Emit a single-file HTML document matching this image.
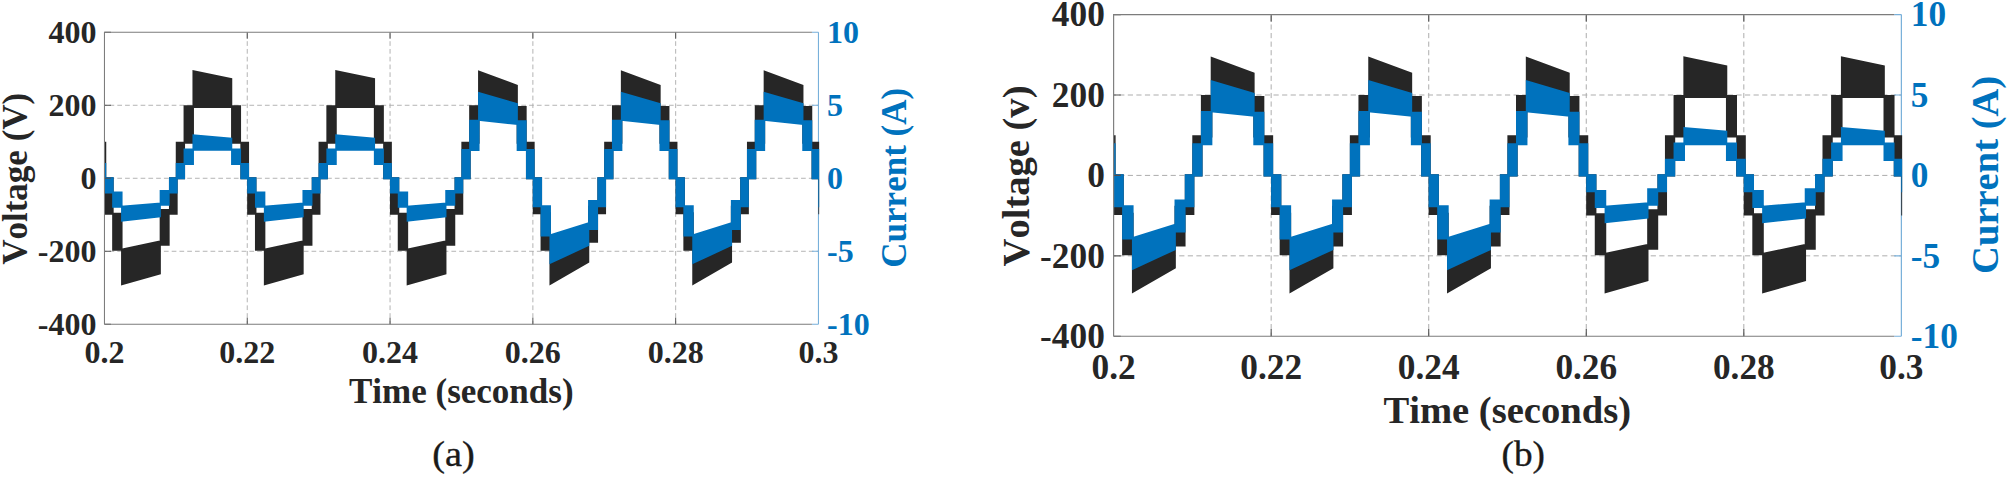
<!DOCTYPE html>
<html lang="en"><head><meta charset="utf-8"><title>Voltage and current waveforms</title>
<style>html,body{margin:0;padding:0;background:#fff}body{width:2007px;height:478px;overflow:hidden}svg{display:block}text{font-kerning:none}</style></head><body>
<svg width="2007" height="478" viewBox="0 0 2007 478">
<defs><clipPath id="clipbox"><rect x="0" y="0" width="714.7" height="292.0"/></clipPath></defs>
<rect width="2007" height="478" fill="#fff"/>
<g transform="translate(104.46,32.27)">
<path d="M142.8,0V292.0M285.6,0V292.0M428.4,0V292.0M571.2,0V292.0" fill="none" stroke="#acacac" stroke-width="0.9" stroke-dasharray="4.7 3.07" stroke-dashoffset="6.6"/>
<path d="M0,73.0H714.0M0,146.0H714.0M0,219.0H714.0" fill="none" stroke="#acacac" stroke-width="0.9" stroke-dasharray="4.7 3.07" stroke-dashoffset="2.7"/>
<path d="M714.0,0V292.0M714.0,0.0h-6.5M714.0,73.0h-6.5M714.0,146.0h-6.5M714.0,219.0h-6.5M714.0,292.0h-6.5" fill="none" stroke="#78b0da" stroke-width="1.1"/>
<g clip-path="url(#clipbox)">
<path d="M-71.5,109.6 -62.2,109.6 -62.2,147.0 -71.5,147.0ZM-63.7,73.1 -53.3,73.1 -53.3,111.6 -63.7,111.6ZM-54.8,37.7 -15.0,46.1 -15.0,75.8 -54.8,75.8ZM-16.2,73.1 -6.2,73.1 -6.2,111.6 -16.2,111.6ZM-6.9,109.6 1.8,109.6 1.8,147.0 -6.9,147.0ZM-0.1,145.0 9.2,145.0 9.2,182.4 -0.1,182.4ZM7.7,180.4 18.1,180.4 18.1,218.5 7.7,218.5ZM16.6,216.5 56.4,208.1 56.4,241.9 16.6,253.2ZM55.2,176.8 65.2,176.8 65.2,213.4 55.2,213.4ZM64.5,145.0 73.2,145.0 73.2,182.4 64.5,182.4ZM71.3,109.6 80.6,109.6 80.6,147.0 71.3,147.0ZM79.1,73.1 89.5,73.1 89.5,111.6 79.1,111.6ZM88.0,37.7 127.8,46.1 127.8,75.8 88.0,75.8ZM126.6,73.1 136.6,73.1 136.6,111.6 126.6,111.6ZM135.9,109.6 144.6,109.6 144.6,147.0 135.9,147.0ZM142.7,145.0 152.0,145.0 152.0,182.4 142.7,182.4ZM150.5,180.4 160.9,180.4 160.9,218.5 150.5,218.5ZM159.4,216.5 199.2,208.1 199.2,241.9 159.4,253.2ZM198.0,176.8 208.0,176.8 208.0,213.4 198.0,213.4ZM207.3,145.0 216.0,145.0 216.0,182.4 207.3,182.4ZM214.1,109.6 223.4,109.6 223.4,147.0 214.1,147.0ZM221.9,73.1 232.3,73.1 232.3,111.6 221.9,111.6ZM230.8,37.7 270.6,46.1 270.6,75.8 230.8,75.8ZM269.4,73.1 279.4,73.1 279.4,111.6 269.4,111.6ZM278.7,109.6 287.4,109.6 287.4,147.0 278.7,147.0ZM285.5,145.0 294.8,145.0 294.8,182.4 285.5,182.4ZM293.3,180.4 303.7,180.4 303.7,218.5 293.3,218.5ZM302.2,216.5 342.0,208.1 342.0,241.9 302.2,253.2ZM340.8,176.8 350.8,176.8 350.8,213.4 340.8,213.4ZM350.1,145.0 358.8,145.0 358.8,182.4 350.1,182.4ZM356.9,109.6 366.2,109.6 366.2,147.0 356.9,147.0ZM364.7,73.1 375.1,73.1 375.1,111.6 364.7,111.6ZM373.6,38.1 413.4,52.7 413.4,79.1 373.6,74.0ZM412.2,73.8 422.2,73.8 422.2,111.6 412.2,111.6ZM421.5,109.6 430.2,109.6 430.2,147.0 421.5,147.0ZM428.3,145.0 437.6,145.0 437.6,182.0 428.3,182.0ZM436.1,180.0 446.5,180.0 446.5,218.5 436.1,218.5ZM445.0,216.5 484.8,200.8 484.8,230.2 445.0,253.2ZM483.6,173.5 493.6,173.5 493.6,210.5 483.6,210.5ZM492.9,145.0 501.6,145.0 501.6,182.0 492.9,182.0ZM499.7,109.6 509.0,109.6 509.0,147.0 499.7,147.0ZM507.5,73.1 517.9,73.1 517.9,111.6 507.5,111.6ZM516.4,38.1 556.2,52.7 556.2,79.1 516.4,74.0ZM555.0,73.8 565.0,73.8 565.0,111.6 555.0,111.6ZM564.3,109.6 573.0,109.6 573.0,147.0 564.3,147.0ZM571.1,145.0 580.4,145.0 580.4,182.0 571.1,182.0ZM578.9,180.0 589.3,180.0 589.3,218.5 578.9,218.5ZM587.8,216.5 627.6,200.8 627.6,230.2 587.8,253.2ZM626.4,173.5 636.4,173.5 636.4,210.5 626.4,210.5ZM635.7,145.0 644.4,145.0 644.4,182.0 635.7,182.0ZM642.5,109.6 651.8,109.6 651.8,147.0 642.5,147.0ZM650.3,73.1 660.7,73.1 660.7,111.6 650.3,111.6ZM659.2,38.1 699.0,52.7 699.0,79.1 659.2,74.0ZM697.8,73.8 707.8,73.8 707.8,111.6 697.8,111.6ZM707.1,109.6 715.8,109.6 715.8,147.0 707.1,147.0ZM713.9,145.0 723.2,145.0 723.2,182.0 713.9,182.0ZM721.7,180.0 732.1,180.0 732.1,218.5 721.7,218.5ZM730.6,216.5 770.4,200.8 770.4,230.2 730.6,253.2ZM769.2,173.5 779.2,173.5 779.2,210.5 769.2,210.5ZM778.5,145.0 787.2,145.0 787.2,182.0 778.5,182.0Z" fill="#262626"/>
<path d="M-71.5,130.8 -62.2,130.8 -62.2,147.0 -71.5,147.0ZM-63.7,116.2 -53.3,116.2 -53.3,132.8 -63.7,132.8ZM-54.8,102.1 -15.0,105.4 -15.0,118.5 -54.8,118.5ZM-16.2,116.2 -6.2,116.2 -6.2,132.8 -16.2,132.8ZM-6.9,130.8 1.8,130.8 1.8,147.0 -6.9,147.0ZM-0.1,145.0 9.2,145.0 9.2,161.2 -0.1,161.2ZM7.7,159.2 18.1,159.2 18.1,175.6 7.7,175.6ZM16.6,173.6 56.4,170.3 56.4,185.0 16.6,189.5ZM55.2,157.7 65.2,157.7 65.2,173.6 55.2,173.6ZM64.5,145.0 73.2,145.0 73.2,161.2 64.5,161.2ZM71.3,130.8 80.6,130.8 80.6,147.0 71.3,147.0ZM79.1,116.2 89.5,116.2 89.5,132.8 79.1,132.8ZM88.0,102.1 127.8,105.4 127.8,118.5 88.0,118.5ZM126.6,116.2 136.6,116.2 136.6,132.8 126.6,132.8ZM135.9,130.8 144.6,130.8 144.6,147.0 135.9,147.0ZM142.7,145.0 152.0,145.0 152.0,161.2 142.7,161.2ZM150.5,159.2 160.9,159.2 160.9,175.6 150.5,175.6ZM159.4,173.6 199.2,170.3 199.2,185.0 159.4,189.5ZM198.0,157.7 208.0,157.7 208.0,173.6 198.0,173.6ZM207.3,145.0 216.0,145.0 216.0,161.2 207.3,161.2ZM214.1,130.8 223.4,130.8 223.4,147.0 214.1,147.0ZM221.9,116.2 232.3,116.2 232.3,132.8 221.9,132.8ZM230.8,102.1 270.6,105.4 270.6,118.5 230.8,118.5ZM269.4,116.2 279.4,116.2 279.4,132.8 269.4,132.8ZM278.7,130.8 287.4,130.8 287.4,147.0 278.7,147.0ZM285.5,145.0 294.8,145.0 294.8,161.2 285.5,161.2ZM293.3,159.2 303.7,159.2 303.7,175.6 293.3,175.6ZM302.2,173.6 342.0,170.3 342.0,185.0 302.2,189.5ZM340.8,157.7 350.8,157.7 350.8,173.6 340.8,173.6ZM350.1,145.0 358.8,145.0 358.8,161.2 350.1,161.2ZM356.9,116.7 366.2,116.7 366.2,147.0 356.9,147.0ZM364.7,87.5 375.1,87.5 375.1,118.7 364.7,118.7ZM373.6,59.4 413.4,71.1 413.4,92.7 373.6,88.6ZM412.2,88.1 422.2,88.1 422.2,118.7 412.2,118.7ZM421.5,116.7 430.2,116.7 430.2,147.0 421.5,147.0ZM428.3,145.0 437.6,145.0 437.6,175.0 428.3,175.0ZM436.1,173.0 446.5,173.0 446.5,204.2 436.1,204.2ZM445.0,202.2 484.8,189.7 484.8,213.6 445.0,232.0ZM483.6,167.8 493.6,167.8 493.6,197.8 483.6,197.8ZM492.9,145.0 501.6,145.0 501.6,175.0 492.9,175.0ZM499.7,116.7 509.0,116.7 509.0,147.0 499.7,147.0ZM507.5,87.5 517.9,87.5 517.9,118.7 507.5,118.7ZM516.4,59.4 556.2,71.1 556.2,92.7 516.4,88.6ZM555.0,88.1 565.0,88.1 565.0,118.7 555.0,118.7ZM564.3,116.7 573.0,116.7 573.0,147.0 564.3,147.0ZM571.1,145.0 580.4,145.0 580.4,175.0 571.1,175.0ZM578.9,173.0 589.3,173.0 589.3,204.2 578.9,204.2ZM587.8,202.2 627.6,189.7 627.6,213.6 587.8,232.0ZM626.4,167.8 636.4,167.8 636.4,197.8 626.4,197.8ZM635.7,145.0 644.4,145.0 644.4,175.0 635.7,175.0ZM642.5,116.7 651.8,116.7 651.8,147.0 642.5,147.0ZM650.3,87.5 660.7,87.5 660.7,118.7 650.3,118.7ZM659.2,59.4 699.0,71.1 699.0,92.7 659.2,88.6ZM697.8,88.1 707.8,88.1 707.8,118.7 697.8,118.7ZM707.1,116.7 715.8,116.7 715.8,147.0 707.1,147.0ZM713.9,145.0 723.2,145.0 723.2,175.0 713.9,175.0ZM721.7,173.0 732.1,173.0 732.1,204.2 721.7,204.2ZM730.6,202.2 770.4,189.7 770.4,213.6 730.6,232.0ZM769.2,167.8 779.2,167.8 779.2,197.8 769.2,197.8ZM778.5,145.0 787.2,145.0 787.2,175.0 778.5,175.0Z" fill="#0072bd"/>
</g>
<path d="M142.8,292.0v-6.5M142.8,0v6.5M285.6,292.0v-6.5M285.6,0v6.5M428.4,292.0v-6.5M428.4,0v6.5M571.2,292.0v-6.5M571.2,0v6.5M0,0.0h6.5M0,73.0h6.5M0,146.0h6.5M0,219.0h6.5M0,292.0h6.5" fill="none" stroke="#505050" stroke-width="1"/>
<path d="M0,292.0V0H707.5M0,292.0H707.5" fill="none" stroke="#7c7c7c" stroke-width="1.05"/>
<g font-family="'Liberation Serif', serif" font-weight="bold" font-size="32" fill="#262626">
<text x="-8" y="10.8" text-anchor="end">400</text>
<text x="-8" y="83.8" text-anchor="end">200</text>
<text x="-8" y="156.8" text-anchor="end">0</text>
<text x="-8" y="229.8" text-anchor="end">-200</text>
<text x="-8" y="302.8" text-anchor="end">-400</text>
<text x="0.0" y="330.5" text-anchor="middle">0.2</text>
<text x="142.8" y="330.5" text-anchor="middle">0.22</text>
<text x="285.6" y="330.5" text-anchor="middle">0.24</text>
<text x="428.4" y="330.5" text-anchor="middle">0.26</text>
<text x="571.2" y="330.5" text-anchor="middle">0.28</text>
<text x="714.0" y="330.5" text-anchor="middle">0.3</text>
<text x="356.8" y="370.6" text-anchor="middle" font-size="35">Time (seconds)</text>
<text transform="translate(-77,146.5) rotate(-90)" text-anchor="middle" font-size="35">Voltage (V)</text>
</g>
<g font-family="'Liberation Serif', serif" font-weight="bold" font-size="32" fill="#0072bd">
<text x="722.6" y="10.8">10</text>
<text x="722.6" y="83.8">5</text>
<text x="722.6" y="156.8">0</text>
<text x="722.6" y="229.8">-5</text>
<text x="722.6" y="302.8">-10</text>
<text transform="translate(801.3,145.5) rotate(-90)" text-anchor="middle" font-size="35">Current (A)</text>
</g>
</g>
<g transform="translate(1113.62,14.6) scale(1.1033,1.1015)">
<path d="M142.8,0V292.0M285.6,0V292.0M428.4,0V292.0M571.2,0V292.0" fill="none" stroke="#acacac" stroke-width="0.9" stroke-dasharray="4.7 3.07" stroke-dashoffset="6.6"/>
<path d="M0,73.0H714.0M0,146.0H714.0M0,219.0H714.0" fill="none" stroke="#acacac" stroke-width="0.9" stroke-dasharray="4.7 3.07" stroke-dashoffset="2.7"/>
<path d="M714.0,0V292.0M714.0,0.0h-6.5M714.0,73.0h-6.5M714.0,146.0h-6.5M714.0,219.0h-6.5M714.0,292.0h-6.5" fill="none" stroke="#78b0da" stroke-width="1.1"/>
<g clip-path="url(#clipbox)">
<path d="M-71.5,109.6 -62.2,109.6 -62.2,147.0 -71.5,147.0ZM-63.7,73.1 -53.3,73.1 -53.3,111.6 -63.7,111.6ZM-54.8,38.1 -15.0,52.7 -15.0,79.1 -54.8,74.0ZM-16.2,73.8 -6.2,73.8 -6.2,111.6 -16.2,111.6ZM-6.9,109.6 1.8,109.6 1.8,147.0 -6.9,147.0ZM-0.1,145.0 9.2,145.0 9.2,182.0 -0.1,182.0ZM7.7,180.0 18.1,180.0 18.1,218.5 7.7,218.5ZM16.6,216.5 56.4,200.8 56.4,230.2 16.6,253.2ZM55.2,173.5 65.2,173.5 65.2,210.5 55.2,210.5ZM64.5,145.0 73.2,145.0 73.2,182.0 64.5,182.0ZM71.3,109.6 80.6,109.6 80.6,147.0 71.3,147.0ZM79.1,73.1 89.5,73.1 89.5,111.6 79.1,111.6ZM88.0,38.1 127.8,52.7 127.8,79.1 88.0,74.0ZM126.6,73.8 136.6,73.8 136.6,111.6 126.6,111.6ZM135.9,109.6 144.6,109.6 144.6,147.0 135.9,147.0ZM142.7,145.0 152.0,145.0 152.0,182.0 142.7,182.0ZM150.5,180.0 160.9,180.0 160.9,218.5 150.5,218.5ZM159.4,216.5 199.2,200.8 199.2,230.2 159.4,253.2ZM198.0,173.5 208.0,173.5 208.0,210.5 198.0,210.5ZM207.3,145.0 216.0,145.0 216.0,182.0 207.3,182.0ZM214.1,109.6 223.4,109.6 223.4,147.0 214.1,147.0ZM221.9,73.1 232.3,73.1 232.3,111.6 221.9,111.6ZM230.8,38.1 270.6,52.7 270.6,79.1 230.8,74.0ZM269.4,73.8 279.4,73.8 279.4,111.6 269.4,111.6ZM278.7,109.6 287.4,109.6 287.4,147.0 278.7,147.0ZM285.5,145.0 294.8,145.0 294.8,182.0 285.5,182.0ZM293.3,180.0 303.7,180.0 303.7,218.5 293.3,218.5ZM302.2,216.5 342.0,200.8 342.0,230.2 302.2,253.2ZM340.8,173.5 350.8,173.5 350.8,210.5 340.8,210.5ZM350.1,145.0 358.8,145.0 358.8,182.0 350.1,182.0ZM356.9,109.6 366.2,109.6 366.2,147.0 356.9,147.0ZM364.7,73.1 375.1,73.1 375.1,111.6 364.7,111.6ZM373.6,38.1 413.4,52.7 413.4,79.1 373.6,74.0ZM412.2,73.8 422.2,73.8 422.2,111.6 412.2,111.6ZM421.5,109.6 430.2,109.6 430.2,147.0 421.5,147.0ZM428.3,145.0 437.6,145.0 437.6,182.4 428.3,182.4ZM436.1,180.4 446.5,180.4 446.5,218.5 436.1,218.5ZM445.0,216.5 484.8,208.1 484.8,241.9 445.0,253.2ZM483.6,176.8 493.6,176.8 493.6,213.4 483.6,213.4ZM492.9,145.0 501.6,145.0 501.6,182.4 492.9,182.4ZM499.7,109.6 509.0,109.6 509.0,147.0 499.7,147.0ZM507.5,73.1 517.9,73.1 517.9,111.6 507.5,111.6ZM516.4,37.7 556.2,46.1 556.2,75.8 516.4,75.8ZM555.0,73.1 565.0,73.1 565.0,111.6 555.0,111.6ZM564.3,109.6 573.0,109.6 573.0,147.0 564.3,147.0ZM571.1,145.0 580.4,145.0 580.4,182.4 571.1,182.4ZM578.9,180.4 589.3,180.4 589.3,218.5 578.9,218.5ZM587.8,216.5 627.6,208.1 627.6,241.9 587.8,253.2ZM626.4,176.8 636.4,176.8 636.4,213.4 626.4,213.4ZM635.7,145.0 644.4,145.0 644.4,182.4 635.7,182.4ZM642.5,109.6 651.8,109.6 651.8,147.0 642.5,147.0ZM650.3,73.1 660.7,73.1 660.7,111.6 650.3,111.6ZM659.2,37.7 699.0,46.1 699.0,75.8 659.2,75.8ZM697.8,73.1 707.8,73.1 707.8,111.6 697.8,111.6ZM707.1,109.6 715.8,109.6 715.8,147.0 707.1,147.0ZM713.9,145.0 723.2,145.0 723.2,182.4 713.9,182.4ZM721.7,180.4 732.1,180.4 732.1,218.5 721.7,218.5ZM730.6,216.5 770.4,208.1 770.4,241.9 730.6,253.2ZM769.2,176.8 779.2,176.8 779.2,213.4 769.2,213.4ZM778.5,145.0 787.2,145.0 787.2,182.4 778.5,182.4Z" fill="#262626"/>
<path d="M-71.5,116.7 -62.2,116.7 -62.2,147.0 -71.5,147.0ZM-63.7,87.5 -53.3,87.5 -53.3,118.7 -63.7,118.7ZM-54.8,59.4 -15.0,71.1 -15.0,92.7 -54.8,88.6ZM-16.2,88.1 -6.2,88.1 -6.2,118.7 -16.2,118.7ZM-6.9,116.7 1.8,116.7 1.8,147.0 -6.9,147.0ZM-0.1,145.0 9.2,145.0 9.2,175.0 -0.1,175.0ZM7.7,173.0 18.1,173.0 18.1,204.2 7.7,204.2ZM16.6,202.2 56.4,189.7 56.4,213.6 16.6,232.0ZM55.2,167.8 65.2,167.8 65.2,197.8 55.2,197.8ZM64.5,145.0 73.2,145.0 73.2,175.0 64.5,175.0ZM71.3,116.7 80.6,116.7 80.6,147.0 71.3,147.0ZM79.1,87.5 89.5,87.5 89.5,118.7 79.1,118.7ZM88.0,59.4 127.8,71.1 127.8,92.7 88.0,88.6ZM126.6,88.1 136.6,88.1 136.6,118.7 126.6,118.7ZM135.9,116.7 144.6,116.7 144.6,147.0 135.9,147.0ZM142.7,145.0 152.0,145.0 152.0,175.0 142.7,175.0ZM150.5,173.0 160.9,173.0 160.9,204.2 150.5,204.2ZM159.4,202.2 199.2,189.7 199.2,213.6 159.4,232.0ZM198.0,167.8 208.0,167.8 208.0,197.8 198.0,197.8ZM207.3,145.0 216.0,145.0 216.0,175.0 207.3,175.0ZM214.1,116.7 223.4,116.7 223.4,147.0 214.1,147.0ZM221.9,87.5 232.3,87.5 232.3,118.7 221.9,118.7ZM230.8,59.4 270.6,71.1 270.6,92.7 230.8,88.6ZM269.4,88.1 279.4,88.1 279.4,118.7 269.4,118.7ZM278.7,116.7 287.4,116.7 287.4,147.0 278.7,147.0ZM285.5,145.0 294.8,145.0 294.8,175.0 285.5,175.0ZM293.3,173.0 303.7,173.0 303.7,204.2 293.3,204.2ZM302.2,202.2 342.0,189.7 342.0,213.6 302.2,232.0ZM340.8,167.8 350.8,167.8 350.8,197.8 340.8,197.8ZM350.1,145.0 358.8,145.0 358.8,175.0 350.1,175.0ZM356.9,116.7 366.2,116.7 366.2,147.0 356.9,147.0ZM364.7,87.5 375.1,87.5 375.1,118.7 364.7,118.7ZM373.6,59.4 413.4,71.1 413.4,92.7 373.6,88.6ZM412.2,88.1 422.2,88.1 422.2,118.7 412.2,118.7ZM421.5,116.7 430.2,116.7 430.2,147.0 421.5,147.0ZM428.3,145.0 437.6,145.0 437.6,161.2 428.3,161.2ZM436.1,159.2 446.5,159.2 446.5,175.6 436.1,175.6ZM445.0,173.6 484.8,170.3 484.8,185.0 445.0,189.5ZM483.6,157.7 493.6,157.7 493.6,173.6 483.6,173.6ZM492.9,145.0 501.6,145.0 501.6,161.2 492.9,161.2ZM499.7,130.8 509.0,130.8 509.0,147.0 499.7,147.0ZM507.5,116.2 517.9,116.2 517.9,132.8 507.5,132.8ZM516.4,102.1 556.2,105.4 556.2,118.5 516.4,118.5ZM555.0,116.2 565.0,116.2 565.0,132.8 555.0,132.8ZM564.3,130.8 573.0,130.8 573.0,147.0 564.3,147.0ZM571.1,145.0 580.4,145.0 580.4,161.2 571.1,161.2ZM578.9,159.2 589.3,159.2 589.3,175.6 578.9,175.6ZM587.8,173.6 627.6,170.3 627.6,185.0 587.8,189.5ZM626.4,157.7 636.4,157.7 636.4,173.6 626.4,173.6ZM635.7,145.0 644.4,145.0 644.4,161.2 635.7,161.2ZM642.5,130.8 651.8,130.8 651.8,147.0 642.5,147.0ZM650.3,116.2 660.7,116.2 660.7,132.8 650.3,132.8ZM659.2,102.1 699.0,105.4 699.0,118.5 659.2,118.5ZM697.8,116.2 707.8,116.2 707.8,132.8 697.8,132.8ZM707.1,130.8 715.8,130.8 715.8,147.0 707.1,147.0ZM713.9,145.0 723.2,145.0 723.2,161.2 713.9,161.2ZM721.7,159.2 732.1,159.2 732.1,175.6 721.7,175.6ZM730.6,173.6 770.4,170.3 770.4,185.0 730.6,189.5ZM769.2,157.7 779.2,157.7 779.2,173.6 769.2,173.6ZM778.5,145.0 787.2,145.0 787.2,161.2 778.5,161.2Z" fill="#0072bd"/>
</g>
<path d="M142.8,292.0v-6.5M142.8,0v6.5M285.6,292.0v-6.5M285.6,0v6.5M428.4,292.0v-6.5M428.4,0v6.5M571.2,292.0v-6.5M571.2,0v6.5M0,0.0h6.5M0,73.0h6.5M0,146.0h6.5M0,219.0h6.5M0,292.0h6.5" fill="none" stroke="#505050" stroke-width="1"/>
<path d="M0,292.0V0H707.5M0,292.0H707.5" fill="none" stroke="#7c7c7c" stroke-width="1.05"/>
<g font-family="'Liberation Serif', serif" font-weight="bold" font-size="32" fill="#262626">
<text x="-8" y="10.8" text-anchor="end">400</text>
<text x="-8" y="83.8" text-anchor="end">200</text>
<text x="-8" y="156.8" text-anchor="end">0</text>
<text x="-8" y="229.8" text-anchor="end">-200</text>
<text x="-8" y="302.8" text-anchor="end">-400</text>
<text x="0.0" y="330.5" text-anchor="middle">0.2</text>
<text x="142.8" y="330.5" text-anchor="middle">0.22</text>
<text x="285.6" y="330.5" text-anchor="middle">0.24</text>
<text x="428.4" y="330.5" text-anchor="middle">0.26</text>
<text x="571.2" y="330.5" text-anchor="middle">0.28</text>
<text x="714.0" y="330.5" text-anchor="middle">0.3</text>
<text x="356.8" y="370.6" text-anchor="middle" font-size="35">Time (seconds)</text>
<text transform="translate(-77,146.5) rotate(-90)" text-anchor="middle" font-size="35">Voltage (v)</text>
</g>
<g font-family="'Liberation Serif', serif" font-weight="bold" font-size="32" fill="#0072bd">
<text x="722.6" y="10.8">10</text>
<text x="722.6" y="83.8">5</text>
<text x="722.6" y="156.8">0</text>
<text x="722.6" y="229.8">-5</text>
<text x="722.6" y="302.8">-10</text>
<text transform="translate(801.3,145.5) rotate(-90)" text-anchor="middle" font-size="35">Current (A)</text>
</g>
</g>
<g font-family="'Liberation Serif', serif" font-size="36.5" fill="#1a1a1a" stroke="#1a1a1a" stroke-width="0.35" text-anchor="middle">
<text transform="translate(453.4,466.2) scale(1.05,1)">(a)</text><text transform="translate(1523.2,466.2) scale(1.02,1)">(b)</text></g>
</svg></body></html>
